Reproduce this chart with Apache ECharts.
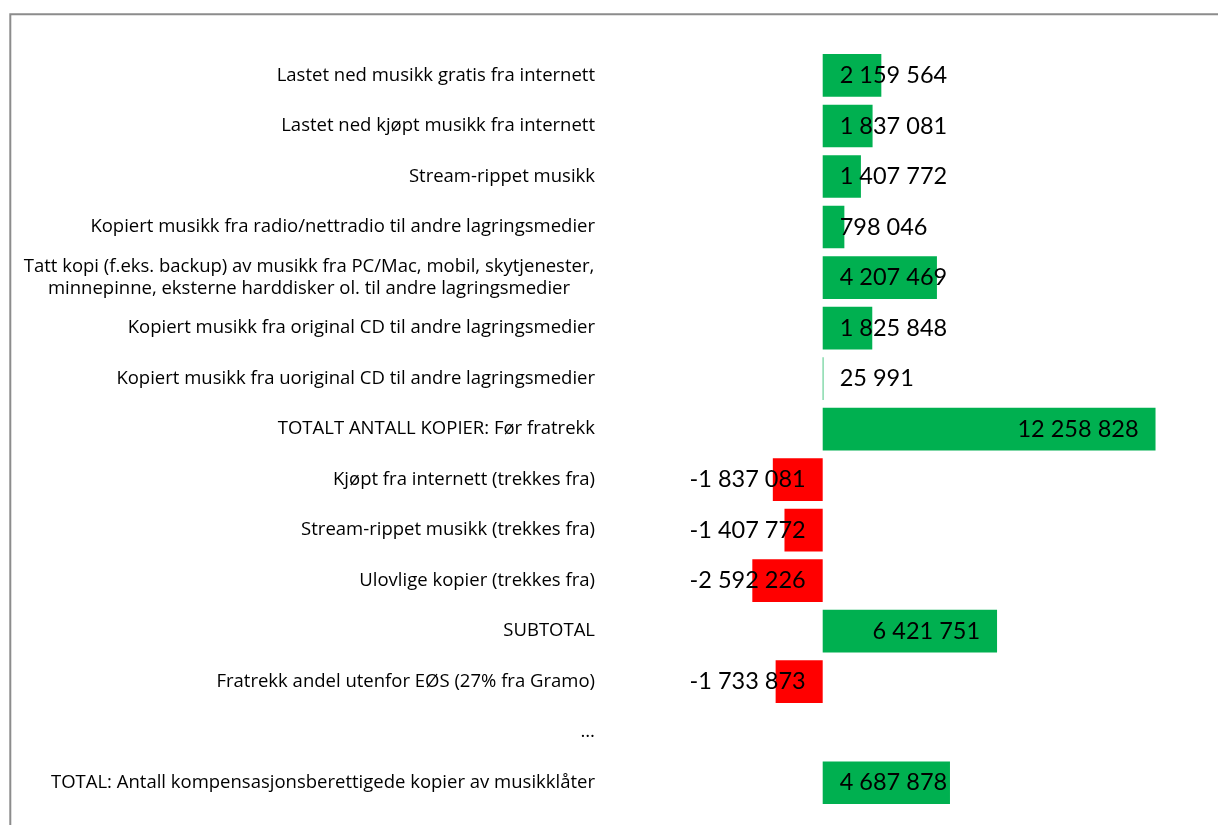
<!DOCTYPE html>
<html>
<head>
<meta charset="utf-8">
<script src="https://cdn.jsdelivr.net/npm/echarts@6/dist/echarts.min.js"></script>
<style>
html,body{margin:0;padding:0;background:#fff;}
#chart{width:1218px;height:825px;}
</style>
</head>
<body>
<div id="chart"></div>
<script>
const categories = [
  "Lastet ned musikk gratis fra internett",
  "Lastet ned kjøpt musikk fra internett",
  "Stream-rippet musikk",
  "Kopiert musikk fra radio/nettradio til andre lagringsmedier",
  "Tatt kopi (f.eks. backup) av musikk fra PC/Mac, mobil, skytjenester,\nminnepinne, eksterne harddisker ol. til andre lagringsmedier",
  "Kopiert musikk fra original CD til andre lagringsmedier",
  "Kopiert musikk fra uoriginal CD til andre lagringsmedier",
  "TOTALT ANTALL KOPIER: Før fratrekk",
  "Kjøpt fra internett (trekkes fra)",
  "Stream-rippet musikk (trekkes fra)",
  "Ulovlige kopier (trekkes fra)",
  "SUBTOTAL",
  "Fratrekk andel utenfor EØS (27% fra Gramo)",
  "…",
  "TOTAL: Antall kompensasjonsberettigede kopier av musikklåter"
];
const values = [2159564, 1837081, 1407772, 798046, 4207469, 1825848, 25991, 12258828,
  -1837081, -1407772, -2592226, 6421751, -1733873, null, 4687878];

const GREEN = '#00B050', RED = '#FF0000';
function fmt(v){
  const s = Math.abs(v).toString().replace(/\B(?=(\d{3})+(?!\d))/g, ' ');
  return (v < 0 ? '-' : '') + s;
}
const seriesData = values.map(v => {
  if (v === null) return {value: null};
  let pos;
  if (v < 0) pos = 'insideRight';
  else if (v > 5000000) pos = 'insideRight';
  else pos = 'insideLeft';
  return {
    value: v,
    itemStyle: {color: v < 0 ? RED : GREEN},
    label: {show: true, position: pos, distance: 17}
  };
});

const chart = echarts.init(document.getElementById('chart'));
chart.setOption({
  animation: false,
  backgroundColor: '#fff',
  graphic: [{
    type: 'rect',
    shape: {x: 10.3, y: 14.3, width: 1230, height: 840},
    style: {fill: 'none', stroke: '#8c8c8c', lineWidth: 2},
    silent: true
  }],
  grid: {left: 605.5, right: 15.2, top: 50.2, bottom: 17, containLabel: false},
  xAxis: {
    type: 'value', min: -8000000, max: 14000000,
    show: false
  },
  yAxis: {
    type: 'category', inverse: true, data: categories,
    axisLine: {show: false}, axisTick: {show: false}, splitLine: {show: false},
    axisLabel: {
      margin: 10.5, color: '#000', fontFamily: 'Open Sans', fontSize: 18.5,
      align: 'right', lineHeight: 22,
      formatter: function(v){
        if (v.indexOf('\n') >= 0) {
          return v.split('\n').map(l => '{c|' + l + '}').join('\n');
        }
        return v;
      },
      rich: {c: {width: 572, align: 'center', fontFamily: 'Open Sans', fontSize: 18.5, color: '#000', lineHeight: 22}}
    }
  },
  series: [{
    type: 'bar', data: seriesData, barWidth: '84.5%',
    label: {color: '#000', fontFamily: 'Lato', fontSize: 23.5, formatter: p => fmt(p.value)}
  }]
});
</script>
</body>
</html>
